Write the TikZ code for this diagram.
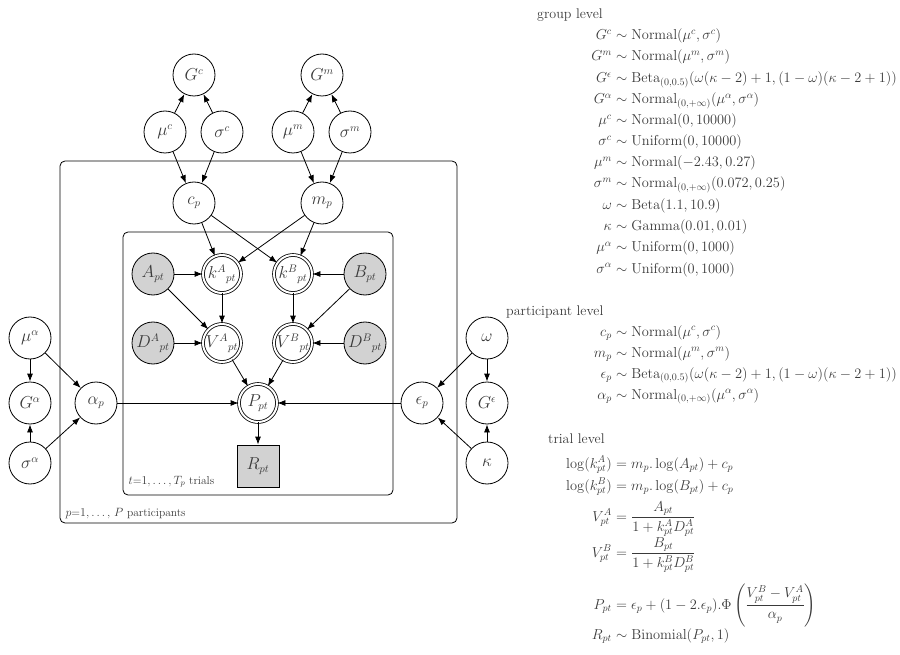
\documentclass[tikz,border=0pt]{standalone}
\usepackage{amsmath}
\usetikzlibrary{arrows.meta}
\begin{document}
\definecolor{tx}{HTML}{3A3A3A}
\begin{tikzpicture}[x=1pt,y=-1pt,
  font=\fontsize{14}{17}\selectfont, text=tx,
  v/.style={circle,draw,thick,minimum size=42pt,inner sep=0pt,font=\fontsize{16}{19}\selectfont},
  obs/.style={v,fill=gray!35},
  det/.style={circle,draw,thick,double,double distance=2pt,minimum size=38pt,inner sep=0pt,font=\fontsize{16}{19}\selectfont},
  sq/.style={rectangle,draw,thick,fill=gray!35,minimum size=42pt,font=\fontsize{16}{19}\selectfont},
  plate/.style={draw,thick,rounded corners=5pt},
  ar/.style={-{Latex[length=8pt,width=6pt]},thick},
  L/.style={anchor=base east,inner sep=0pt},
  R/.style={anchor=base west,inner sep=0pt},
  H/.style={anchor=base west,inner sep=0pt}]
\useasboundingbox (0,0) rectangle (900,655);
\draw[plate] (60,161) rectangle (457,523);
\draw[plate] (123,232) rectangle (393,495);
\node[anchor=base west,font=\fontsize{11.5}{13}\selectfont] (tl) at (125,484) {$t$=$1,\dots,T_p$ trials};
\node[anchor=base west,font=\fontsize{11.5}{13}\selectfont] (pl) at (62,516) {$p$=$1,\dots,$ $P$ participants};
\node[v] (Gc) at (194,75) {$G^c$};
\node[v] (Gm) at (322,75) {$G^m$};
\node[v] (muc) at (165,132) {$\mu^c$};
\node[v] (sc) at (222,132) {$\sigma^c$};
\node[v] (mum) at (293,132) {$\mu^m$};
\node[v] (sm) at (350,132) {$\sigma^m$};
\node[v] (cp) at (194,203) {$c_p$};
\node[v] (mp) at (322,203) {$m_p$};
\node[obs] (A) at (153,274) {$A_{pt}$};
\node[det] (kA) at (222,274) {$k^A{}_{pt}$};
\node[det] (kB) at (293,274) {$k^B{}_{pt}$};
\node[obs] (B) at (365,274) {$B_{pt}$};
\node[obs] (DA) at (153,343) {$D^A{}_{pt}$};
\node[det] (VA) at (222,343) {$V^A{}_{pt}$};
\node[det] (VB) at (293,343) {$V^B{}_{pt}$};
\node[obs] (DB) at (365,343) {$D^B{}_{pt}$};
\node[det] (P) at (258,403) {$P_{pt}$};
\node[sq] (R) at (258,466) {$R_{pt}$};
\node[v] (mua) at (30,338) {$\mu^\alpha$};
\node[v] (Ga) at (30,403) {$G^\alpha$};
\node[v] (sa) at (30,463) {$\sigma^\alpha$};
\node[v] (ap) at (96,403) {$\alpha_p$};
\node[v] (ep) at (422,403) {$\epsilon_p$};
\node[v] (om) at (487,338) {$\omega$};
\node[v] (Ge) at (487,403) {$G^\epsilon$};
\node[v] (ka) at (487,463) {$\kappa$};
\draw[ar] (muc)--(Gc); \draw[ar] (sc)--(Gc);
\draw[ar] (mum)--(Gm); \draw[ar] (sm)--(Gm);
\draw[ar] (muc)--(cp); \draw[ar] (sc)--(cp);
\draw[ar] (mum)--(mp); \draw[ar] (sm)--(mp);
\draw[ar] (cp)--(kA); \draw[ar] (cp)--(kB);
\draw[ar] (mp)--(kA); \draw[ar] (mp)--(kB);
\draw[ar] (A)--(kA); \draw[ar] (B)--(kB);
\draw[ar] (A)--(VA); \draw[ar] (B)--(VB);
\draw[ar] (kA)--(VA); \draw[ar] (kB)--(VB);
\draw[ar] (DA)--(VA); \draw[ar] (DB)--(VB);
\draw[ar] (VA)--(P); \draw[ar] (VB)--(P);
\draw[ar] (ap)--(P); \draw[ar] (ep)--(P);
\draw[ar] (P)--(R);
\draw[ar] (mua)--(Ga); \draw[ar] (sa)--(Ga);
\draw[ar] (mua)--(ap); \draw[ar] (sa)--(ap);
\draw[ar] (om)--(Ge); \draw[ar] (ka)--(Ge);
\draw[ar] (om)--(ep); \draw[ar] (ka)--(ep);
% equations
\def\ax{612}
\node[H] (h1) at (537,19) {group level};
\foreach \y/\l/\r [count=\i] in {
 40/{G^c}/{\sim \mathrm{Normal}(\mu^c,\sigma^c)},
 61/{G^m}/{\sim \mathrm{Normal}(\mu^m,\sigma^m)},
 83/{G^\epsilon}/{\sim \mathrm{Beta}_{(0,0.5)}(\omega(\kappa-2)+1,(1-\omega)(\kappa-2+1))},
 104/{G^\alpha}/{\sim \mathrm{Normal}_{(0,+\infty)}(\mu^\alpha,\sigma^\alpha)},
 125/{\mu^c}/{\sim \mathrm{Normal}(0,10000)},
 146/{\sigma^c}/{\sim \mathrm{Uniform}(0,10000)},
 167/{\mu^m}/{\sim \mathrm{Normal}(-2.43,0.27)},
 188/{\sigma^m}/{\sim \mathrm{Normal}_{(0,+\infty)}(0.072,0.25)},
 210/{\omega}/{\sim \mathrm{Beta}(1.1,10.9)},
 231/{\kappa}/{\sim \mathrm{Gamma}(0.01,0.01)},
 252/{\mu^\alpha}/{\sim \mathrm{Uniform}(0,1000)},
 273/{\sigma^\alpha}/{\sim \mathrm{Uniform}(0,1000)}}
 {\node[L] (gl\i) at (\ax,\y) {$\l$}; \node[R] (gr\i) at (\ax,\y) {${}\r$};}
\node[H] (h2) at (506,316) {participant level};
\foreach \y/\l/\r [count=\i] in {
 336/{c_p}/{\sim \mathrm{Normal}(\mu^c,\sigma^c)},
 357/{m_p}/{\sim \mathrm{Normal}(\mu^m,\sigma^m)},
 378/{\epsilon_p}/{\sim \mathrm{Beta}_{(0,0.5)}(\omega(\kappa-2)+1,(1-\omega)(\kappa-2+1))},
 399/{\alpha_p}/{\sim \mathrm{Normal}_{(0,+\infty)}(\mu^\alpha,\sigma^\alpha)}}
 {\node[L] (pl\i) at (\ax,\y) {$\l$}; \node[R] (pr\i) at (\ax,\y) {${}\r$};}
\node[H] (h3) at (548,443) {trial level};
\node[L] (t1) at (\ax,468) {$\log(k^A_{pt})$}; \node[R] (t1r) at (\ax,468) {${}= m_p.\log(A_{pt})+c_p$};
\node[L] (t2) at (\ax,490) {$\log(k^B_{pt})$}; \node[R] (t2r) at (\ax,490) {${}= m_p.\log(B_{pt})+c_p$};
\node[L] (t3) at (\ax,521) {$V^A_{pt}$}; \node[R] (t3r) at (\ax,521) {${}= \dfrac{A_{pt}}{1+k^A_{pt}D^A_{pt}}$};
\node[L] (t4) at (\ax,557) {$V^B_{pt}$}; \node[R] (t4r) at (\ax,557) {${}= \dfrac{B_{pt}}{1+k^B_{pt}D^B_{pt}}$};
\node[L] (t5) at (\ax,609) {$P_{pt}$}; \node[R] (t5r) at (\ax,609) {${}= \epsilon_p+(1-2.\epsilon_p).\Phi\left(\dfrac{V^B_{pt}-V^A_{pt}}{\alpha_p}\right)$};
\node[L] (t6) at (\ax,639) {$R_{pt}$}; \node[R] (t6r) at (\ax,639) {${}\sim \mathrm{Binomial}(P_{pt},1)$};
\end{tikzpicture}
\end{document}
